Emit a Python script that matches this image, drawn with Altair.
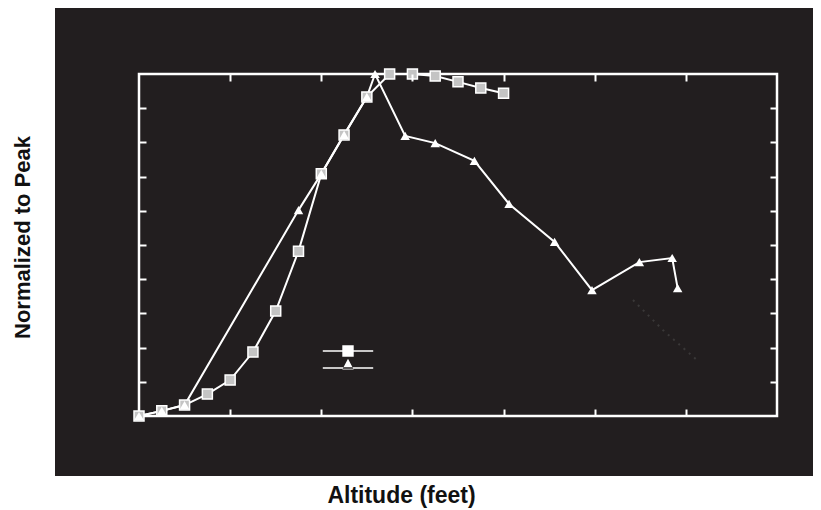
import altair as alt
import pandas as pd

# --- data (altitude in feet, value normalised to peak) ---
sq_alt = [0, 2500, 5000, 7500, 10000, 12500, 15000, 17500, 20000, 22500,
          25000, 27500, 30000, 32500, 35000, 37500, 40000]
sq_val = [0.0, 0.015, 0.032, 0.064, 0.105, 0.187, 0.307, 0.482, 0.708, 0.822,
          0.933, 1.0, 1.0, 0.994, 0.977, 0.959, 0.944]

tri_alt = [0, 2500, 5000, 17500, 20000, 22500, 25000, 25900, 29200, 32500,
           36800, 40600, 45600, 49700, 54900, 58500, 59100]
tri_val = [0.0, 0.015, 0.032, 0.602, 0.708, 0.822, 0.933, 1.0, 0.819, 0.798,
           0.746, 0.62, 0.509, 0.368, 0.45, 0.462, 0.374]

faint_alt = [54200, 57500, 61200]
faint_val = [0.339, 0.251, 0.164]

series_names = ["Series A", "Series B"]
x_domain = [0, 70000]
y_domain = [0, 1]
x_ticks = [10000, 20000, 30000, 40000, 50000, 60000]
y_ticks = [0.1, 0.2, 0.3, 0.4, 0.5, 0.6, 0.7, 0.8, 0.9]

df = pd.DataFrame({
    "alt": sq_alt + tri_alt,
    "val": sq_val + tri_val,
    "series": [series_names[0]] * len(sq_alt) + [series_names[1]] * len(tri_alt),
})
df_faint = pd.DataFrame({"alt": faint_alt, "val": faint_val})
df_one = pd.DataFrame({"k": [0]})

W, H = 638, 342
BG = "#221e1f"
xscale = alt.Scale(domain=x_domain, nice=False, zero=False)
yscale = alt.Scale(domain=y_domain, nice=False)

tick_axis = dict(domain=False, labels=False, grid=False, ticks=True,
                 tickColor="white", tickWidth=2, tickSize=7, offset=-7, zindex=2)

# dark backdrop of the scanned figure
backdrop = alt.Chart(df_one).mark_rect(color=BG).encode(
    x=alt.value(-84), x2=alt.value(W + 36), y=alt.value(-66), y2=alt.value(402)
)

# white plot frame, drawn through the scales at the domain limits
frame = alt.Chart(df_one).mark_rect(fill=None, stroke="white", strokeWidth=2.5).encode(
    x=alt.datum(x_domain[0], scale=xscale, axis=None),
    x2=alt.datum(x_domain[1]),
    y=alt.datum(y_domain[0], scale=yscale, axis=None),
    y2=alt.datum(y_domain[1]),
)

lines = alt.Chart(df).mark_line(color="white", strokeWidth=2).encode(
    x=alt.X("alt:Q", scale=xscale,
            axis=alt.Axis(orient="bottom", values=x_ticks, title="Altitude (feet)",
                          titleFont="Liberation Sans", titleFontSize=23, titleFontWeight="bold",
                          titleColor="#111111", titleX=262, titleY=93, titleAlign="center",
                          titleBaseline="alphabetic", **tick_axis)),
    y=alt.Y("val:Q", scale=yscale,
            axis=alt.Axis(orient="left", values=y_ticks, title="Normalized to Peak",
                          titleFont="Liberation Sans", titleFontSize=22, titleFontWeight="bold",
                          titleColor="#111111", titleX=-124, titleY=163, titleAngle=270,
                          titleAlign="center", titleBaseline="middle", **tick_axis)),
    detail="series:N",
    order="alt:Q",
)

squares = alt.Chart(df).transform_filter(
    alt.datum.series == series_names[0]
).mark_point(shape="square", filled=True, fill="#c4c4c4", stroke="white",
             strokeWidth=1.5, size=100, opacity=1).encode(
    x=alt.X("alt:Q", scale=xscale,
            axis=alt.Axis(orient="top", values=x_ticks, title="", **tick_axis)),
    y=alt.Y("val:Q", scale=yscale,
            axis=alt.Axis(orient="right", values=y_ticks, title="", **tick_axis)),
)

triangles = alt.Chart(df).transform_filter(
    alt.datum.series == series_names[1]
).mark_point(shape="triangle-up", filled=True, color="white", size=90, opacity=1).encode(
    x=alt.X("alt:Q", scale=xscale, axis=None),
    y=alt.Y("val:Q", scale=yscale, axis=None),
)

faint = alt.Chart(df_faint).mark_line(color="#3a3838", strokeWidth=2, strokeDash=[2, 5]).encode(
    x=alt.X("alt:Q", scale=xscale, axis=None),
    y=alt.Y("val:Q", scale=yscale, axis=None),
)

# legend symbols: a line with the marker in the middle (labels lost in the scan)
sq_path = ("M-4.2,-0.13 L4.2,-0.13 L4.2,0.13 L-4.2,0.13 Z "
           "M-0.95,-0.95 L0.95,-0.95 L0.95,0.95 L-0.95,0.95 Z")
tri_path = ("M-4.2,0.2 L4.2,0.2 L4.2,0.46 L-4.2,0.46 Z "
            "M-0.95,0.6 L0.95,0.6 L0,-1.2 Z")

legend_layer = alt.Chart(df).transform_filter("false").mark_point(
    filled=True, color="white", opacity=1
).encode(
    x=alt.X("alt:Q", scale=xscale, axis=None),
    y=alt.Y("val:Q", scale=yscale, axis=None),
    shape=alt.Shape("series:N",
                    scale=alt.Scale(domain=series_names, range=[sq_path, tri_path]),
                    legend=alt.Legend(orient="none", legendX=203, legendY=271, title="",
                                      labelExpr="''", labelFontSize=1, symbolSize=144,
                                      symbolFillColor="white", symbolStrokeWidth=0,
                                      symbolOpacity=1, rowPadding=1, padding=0,
                                      labelOffset=0)),
)

chart = alt.layer(backdrop, frame, faint, lines, squares, triangles, legend_layer).resolve_axis(
    x="independent", y="independent"
).properties(
    width=W, height=H,
    autosize=alt.AutoSizeParams(type="none"),
    padding={"left": 131, "top": 66, "right": 36, "bottom": 92},
    background="white",
).configure_view(
    stroke=None, fill=None
)

chart.save("out.html", embed_options={"renderer": "svg", "actions": False})
